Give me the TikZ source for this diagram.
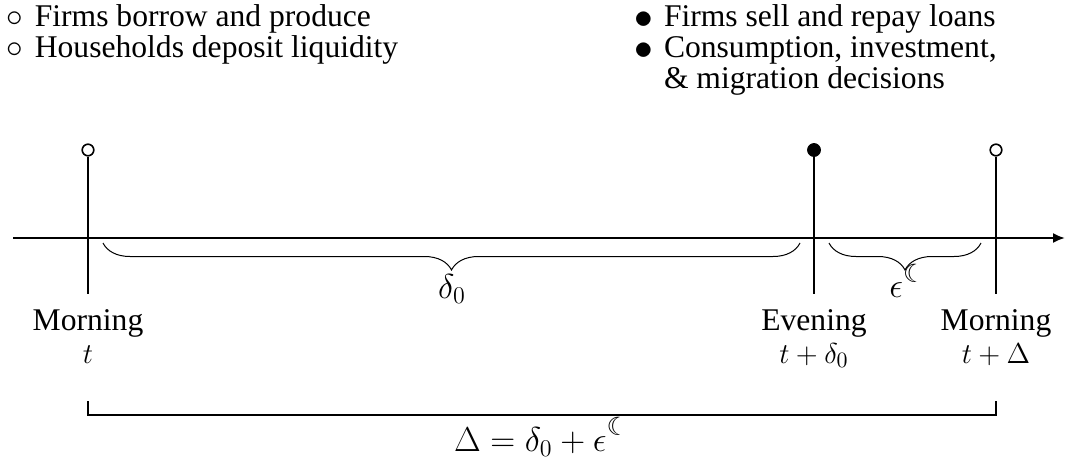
\documentclass[tikz,border=0pt]{standalone}
\usepackage{amsmath}
\usepackage{graphicx}
\usepackage{fontspec}
\setmainfont{Liberation Serif}
\newfontfamily\moonfont{DejaVu Sans}
\usepackage{tikz}
\usetikzlibrary{arrows.meta,positioning,decorations.pathreplacing}

\newcommand{\moon}{\raisebox{1.5pt}{\moonfont\fontsize{12.5}{12.5}\selectfont ☾}}
\newcommand{\opn}{\scalebox{1.15}{$\circ$}\hspace{2pt} }
\newcommand{\cls}{\raisebox{-0.06em}{\scalebox{1.3}{$\bullet$}}\hspace{1.5pt} }

\begin{document}
\begin{tikzpicture}[
    x=0.5pt, y=-0.5pt,
    font=\fontsize{15.8}{15.5}\selectfont,
    label/.style={align=center, anchor=north, inner sep=0pt, font=\fontsize{15.8}{16.5}\selectfont},
    notes/.style={align=left, anchor=north west, inner sep=0pt},
    mathlbl/.style={inner sep=1pt, font=\fontsize{17}{17}\selectfont},
    opendot/.style={circle, draw, fill=white, line width=0.8pt, inner sep=0pt, minimum size=5.8pt},
    fulldot/.style={circle, draw, fill=black, inner sep=0pt, minimum size=6.5pt},
    tick/.style={line width=0.9pt},
    axis/.style={line width=1pt, -{Latex[length=6pt,width=5pt]}},
    brace/.style={decorate, decoration={brace, amplitude=13.5pt, mirror}, line width=0.5pt},
    bracket/.style={line width=1pt}
]
    \useasboundingbox (0,0) rectangle (1065,461);

    % Notes on top
    \node[notes] (morningnotes) at (6,4) {\opn Firms borrow and produce\\\opn Households deposit liquidity};
    \node[notes] (eveningnotes) at (634,4) {\cls Firms sell and repay loans\\\cls Consumption, investment,\\\hphantom{\cls}\& migration decisions};

    % Time axis
    \coordinate (axstart) at (13,238);
    \coordinate (axend) at (1065,238);
    \draw[axis] (axstart) -- (axend);

    % Ticks with dots
    \node[opendot] (dotm0) at (88,150) {};
    \node[fulldot] (dote) at (814,150) {};
    \node[opendot] (dotm1) at (996,150) {};
    \coordinate (endm0) at (88,294);
    \coordinate (ende) at (814,294);
    \coordinate (endm1) at (996,294);
    \draw[tick] (dotm0) -- (endm0);
    \draw[tick] (dote) -- (ende);
    \draw[tick] (dotm1) -- (endm1);

    % Braces
    \coordinate (bra) at (103,243);
    \coordinate (brb) at (800,243);
    \coordinate (brc) at (829,243);
    \coordinate (brd) at (981,243);
    \draw[brace] (bra) -- (brb);
    \draw[brace] (brc) -- (brd);
    \node[mathlbl] (delta) at (452,289) {$\delta_0$};
    \node[mathlbl] (eps) at (908,281) {$\epsilon^{\moon}$};

    % Labels under the axis
    \node[label] (lblm0) at (88,309) {Morning\\$t$};
    \node[label] (lble) at (814,309) {Evening\\$t+\delta_0$};
    \node[label] (lblm1) at (996,309) {Morning\\$t+\Delta$};

    % Bracket for the whole period
    \coordinate (bkl) at (88,401);
    \coordinate (bkr) at (996,401);
    \draw[bracket] (bkl) -- ++(0,14) -| (bkr);
    \node[mathlbl] (total) at (542,437) {$\Delta=\delta_0+\epsilon^{\moon}$};
\end{tikzpicture}
\end{document}
